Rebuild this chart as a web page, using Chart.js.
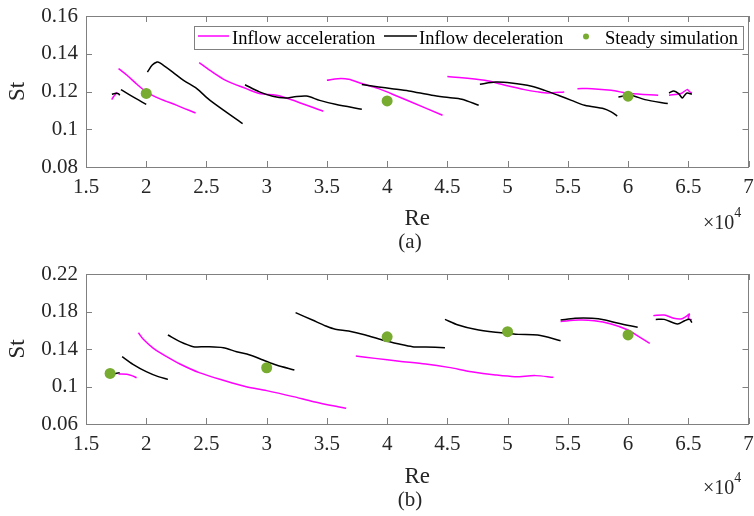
<!DOCTYPE html>
<html>
<head>
<meta charset="utf-8">
<script src="https://cdn.jsdelivr.net/npm/chart.js@4.4.1/dist/chart.umd.min.js"></script>
<style>
  html, body { margin: 0; padding: 0; background: #fff; }
  .panel { position: relative; width: 754px; height: 258px; }
</style>
</head>
<body>
<div class="panel"><canvas id="chartA"></canvas></div>
<div class="panel"><canvas id="chartB"></canvas></div>
<script>
// Re in units of 1e4, St
const xTicks = [1.5, 2, 2.5, 3, 3.5, 4, 4.5, 5, 5.5, 6, 6.5, 7];
const yTicksA = [0.08, 0.1, 0.12, 0.14, 0.16];
const yTicksB = [0.06, 0.1, 0.14, 0.18, 0.22];

// ---- panel (a) ----
const accelA = [
  [[1.714,0.1157],[1.728,0.1172],[1.745,0.1186],[1.76,0.1196]],
  [[1.77,0.1321],[1.84,0.1286],[1.92,0.1240],[2.0,0.1198],[2.11,0.1162],[2.25,0.1128],[2.41,0.1086]],
  [[2.44,0.1353],[2.55,0.1303],[2.66,0.1259],[2.83,0.1215],[2.94,0.1189],[3.08,0.1180],[3.2,0.1158],[3.47,0.1095]],
  [[3.50,0.1259],[3.59,0.1268],[3.68,0.1265],[3.79,0.1242],[3.93,0.1215],[4.10,0.1171],[4.18,0.1150],[4.46,0.1074]],
  [[4.50,0.1280],[4.81,0.1259],[4.98,0.1233],[5.14,0.1210],[5.25,0.1198],[5.34,0.1192],[5.47,0.1198]],
  [[5.58,0.1215],[5.70,0.1215],[5.86,0.1206],[6.02,0.1189],[6.25,0.1180]],
  [[6.34,0.1180],[6.44,0.1189],[6.49,0.1210],[6.51,0.1200],[6.53,0.1192]]
];
const decelA = [
  [[1.715,0.1185],[1.74,0.1190],[1.77,0.1188],[1.78,0.1180]],
  [[1.79,0.1210],[1.88,0.1175],[2.0,0.1132]],
  [[2.01,0.1303],[2.05,0.1340],[2.09,0.1356],[2.11,0.1353],[2.22,0.1303],[2.31,0.1259],[2.42,0.1215],[2.53,0.1153],[2.80,0.1030]],
  [[2.82,0.1236],[2.94,0.1198],[3.05,0.1175],[3.16,0.1166],[3.22,0.1171],[3.33,0.1176],[3.44,0.1153],[3.57,0.1132],[3.79,0.1106]],
  [[3.79,0.1237],[3.93,0.1224],[4.04,0.1215],[4.18,0.1203],[4.37,0.1180],[4.51,0.1168],[4.62,0.1159],[4.76,0.1127]],
  [[4.77,0.1238],[4.90,0.1250],[5.03,0.1245],[5.20,0.1228],[5.31,0.1206],[5.42,0.1180],[5.53,0.1153],[5.64,0.1127],[5.80,0.1109],[5.86,0.1092],[5.91,0.1070]],
  [[5.92,0.1171],[6.02,0.1180],[6.14,0.1157],[6.33,0.1136]],
  [[6.34,0.1192],[6.38,0.1203],[6.42,0.1189],[6.45,0.1166],[6.47,0.1180],[6.49,0.1192],[6.53,0.1185]]
];
const steadyReA = [2, 4, 6];
const steadyStA = [0.119, 0.115, 0.1175];

// ---- panel (b) ----
const accelB = [
  [[1.77,0.1133],[1.84,0.1130],[1.88,0.1116],[1.92,0.1094]],
  [[1.935,0.1574],[1.976,0.1503],[2.06,0.1407],[2.17,0.1318],[2.28,0.1240],[2.44,0.1148],[2.66,0.1059],[2.83,0.0998],[3.0,0.0956],[3.22,0.0892],[3.39,0.0838],[3.66,0.0767]],
  [[3.74,0.1325],[3.90,0.1300],[4.10,0.1270],[4.32,0.1240],[4.51,0.1204],[4.70,0.1158],[4.90,0.1123],[5.06,0.1105],[5.23,0.1116],[5.38,0.1098]],
  [[5.44,0.1692],[5.59,0.1709],[5.72,0.1702],[5.86,0.1667],[6.0,0.1603],[6.08,0.1539],[6.18,0.1460]],
  [[6.21,0.1756],[6.30,0.1763],[6.38,0.1727],[6.44,0.1720],[6.48,0.1745],[6.51,0.1773],[6.50,0.1725],[6.53,0.1712]]
];
const decelB = [
  [[1.73,0.1133],[1.78,0.1148]],
  [[1.80,0.1318],[1.89,0.1236],[2.0,0.1158],[2.10,0.1105],[2.18,0.1076]],
  [[2.18,0.1549],[2.28,0.1478],[2.39,0.1425],[2.50,0.1425],[2.64,0.1414],[2.75,0.1371],[2.86,0.1336],[2.97,0.1283],[3.08,0.1229],[3.23,0.1176]],
  [[3.24,0.1788],[3.38,0.1709],[3.49,0.1646],[3.57,0.1610],[3.68,0.1592],[3.82,0.1550],[3.96,0.1496],[4.10,0.1453],[4.21,0.1425],[4.32,0.1421],[4.48,0.1414]],
  [[4.48,0.1716],[4.59,0.1656],[4.73,0.1610],[4.90,0.1578],[5.0,0.1567],[5.09,0.1556],[5.25,0.1549],[5.44,0.1489]],
  [[5.44,0.1709],[5.56,0.1727],[5.70,0.1727],[5.81,0.1709],[5.92,0.1674],[6.08,0.1631]],
  [[6.23,0.1716],[6.30,0.1716],[6.41,0.1667],[6.47,0.1702],[6.51,0.1716],[6.53,0.1681]]
];
const steadyReB = [1.7, 3, 4, 5, 6];
const steadyStB = [0.114, 0.12, 0.153, 0.1585, 0.155];

const FONT = "'Liberation Serif', 'Times New Roman', serif";
const MAGENTA = "#ff00ff";
const BLACK = "#000000";
const GREEN = "#77ac30";
const AXIS = "#808080";

// segments -> one dataset, broken with null points
function joinSegments(segs) {
  const out = [];
  segs.forEach((seg, i) => {
    if (i > 0) out.push({ x: seg[0][0], y: null });
    seg.forEach(p => out.push({ x: p[0], y: p[1] }));
  });
  return out;
}

// box + inward ticks like matlab
const framePlugin = {
  id: "frame",
  afterDatasetsDraw(chart) {
    const { ctx, chartArea: a, scales } = chart;
    ctx.save();
    ctx.strokeStyle = AXIS;
    ctx.lineWidth = 1;
    ctx.beginPath();
    scales.x.ticks.forEach(t => {
      const px = Math.round(scales.x.getPixelForValue(t.value)) + 0.5;
      ctx.moveTo(px, a.bottom); ctx.lineTo(px, a.bottom - 6);
      ctx.moveTo(px, a.top); ctx.lineTo(px, a.top + 6);
    });
    scales.y.ticks.forEach(t => {
      const py = Math.round(scales.y.getPixelForValue(t.value)) + 0.5;
      ctx.moveTo(a.left, py); ctx.lineTo(a.left + 6, py);
      ctx.moveTo(a.right, py); ctx.lineTo(a.right - 6, py);
    });
    ctx.stroke();
    ctx.strokeRect(Math.round(a.left) + 0.5, Math.round(a.top) + 0.5,
      Math.round(a.right - a.left) - 1, Math.round(a.bottom - a.top));
    ctx.restore();
  }
};

// x10^4 and panel tag
const extraText = {
  id: "extraText",
  afterDraw(chart, args, opts) {
    const { ctx } = chart;
    ctx.save();
    ctx.fillStyle = "#262626";
    ctx.textBaseline = "alphabetic";
    ctx.textAlign = "left";
    ctx.font = "20px " + FONT;
    ctx.fillText("×10", 703, opts.expY);
    const w = ctx.measureText("×10").width;
    ctx.font = "14px " + FONT;
    ctx.fillText("4", 703 + w, opts.expY - 12);
    ctx.font = "21px " + FONT;
    ctx.textAlign = "center";
    ctx.textBaseline = "middle";
    ctx.fillText(opts.tag, 410, 242);
    ctx.restore();
  }
};

const legendBox = {
  id: "legendBox",
  afterDraw(chart, args, opts) {
    if (!opts.show) return;
    const { ctx } = chart;
    ctx.save();
    ctx.fillStyle = "#fff";
    ctx.fillRect(194, 26, 549, 23);
    ctx.strokeStyle = AXIS;
    ctx.lineWidth = 1;
    ctx.strokeRect(194.5, 26.5, 549, 23);
    ctx.lineWidth = 1.5;
    ctx.strokeStyle = MAGENTA;
    ctx.beginPath(); ctx.moveTo(198, 36); ctx.lineTo(229, 36); ctx.stroke();
    ctx.strokeStyle = BLACK;
    ctx.beginPath(); ctx.moveTo(384, 36); ctx.lineTo(417, 36); ctx.stroke();
    ctx.fillStyle = GREEN;
    ctx.beginPath(); ctx.arc(586, 36.5, 3, 0, Math.PI * 2); ctx.fill();
    ctx.fillStyle = "#000";
    ctx.font = "18.5px " + FONT;
    ctx.textBaseline = "alphabetic";
    ctx.fillText("Inflow acceleration", 232, 43.5);
    ctx.fillText("Inflow deceleration", 419, 43.5);
    ctx.fillText("Steady simulation", 605, 43.5);
    ctx.restore();
  }
};

function makeChart(id, accel, decel, sRe, sSt, yTicks, opt) {
  const steady = sRe.map((x, i) => ({ x, y: sSt[i] }));
  return new Chart(document.getElementById(id), {
    type: "line",
    data: {
      datasets: [
        { label: "Steady simulation", data: steady, showLine: false,
          pointRadius: 5.5, pointBackgroundColor: GREEN, pointBorderWidth: 0 },
        { label: "Inflow deceleration", data: joinSegments(decel), borderColor: BLACK,
          borderWidth: 1.5, pointRadius: 0, tension: 0.3, spanGaps: false },
        { label: "Inflow acceleration", data: joinSegments(accel), borderColor: MAGENTA,
          borderWidth: 1.5, pointRadius: 0, tension: 0.3, spanGaps: false }
      ]
    },
    options: {
      responsive: true,
      maintainAspectRatio: false,
      animation: false,
      events: [],
      layout: { padding: { left: 0, right: 2, top: 16, bottom: 0 } },
      plugins: {
        legend: { display: false },
        tooltip: { enabled: false },
        extraText: { tag: opt.tag, expY: opt.expY },
        legendBox: { show: opt.legend }
      },
      scales: {
        x: {
          type: "linear",
          min: 1.5, max: 7,
          afterBuildTicks: s => { s.ticks = xTicks.map(v => ({ value: v })); },
          afterFit: s => { s.height = opt.xh; s.paddingLeft = 0; s.paddingRight = 0; },
          grid: { display: false, drawTicks: false },
          border: { display: false },
          ticks: { autoSkip: false, maxRotation: 0, padding: 8, color: "#262626",
            font: { family: FONT, size: 21 }, callback: v => String(v) },
          title: { display: true, text: "Re", color: "#262626",
            font: { family: FONT, size: 23, lineHeight: 1 }, padding: { top: 0, bottom: 28 } }
        },
        y: {
          type: "linear",
          min: yTicks[0], max: yTicks[yTicks.length - 1],
          afterBuildTicks: s => { s.ticks = yTicks.map(v => ({ value: v })); },
          afterFit: s => { s.width = 86; s.paddingTop = 0; s.paddingBottom = 0; },
          grid: { display: false, drawTicks: false },
          border: { display: false },
          ticks: { padding: 8, color: "#262626",
            font: { family: FONT, size: 21 }, callback: v => String(v) },
          title: { display: true, text: "St", color: "#262626",
            font: { family: FONT, size: 23, lineHeight: 1 }, padding: { top: 6, bottom: 0 } }
        }
      }
    },
    plugins: [framePlugin, extraText, legendBox]
  });
}

makeChart("chartA", accelA, decelA, steadyReA, steadyStA, yTicksA,
  { tag: "(a)", expY: 229, legend: true, xh: 91 });
makeChart("chartB", accelB, decelB, steadyReB, steadyStB, yTicksB,
  { tag: "(b)", expY: 236, legend: false, xh: 92 });
</script>
</body>
</html>
